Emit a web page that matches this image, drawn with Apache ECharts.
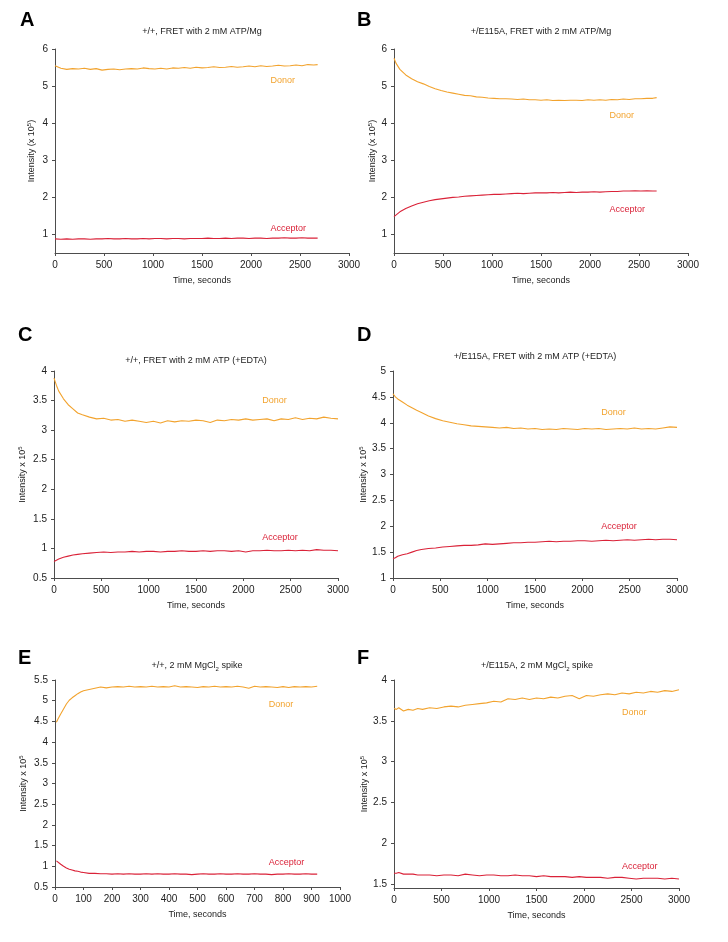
<!DOCTYPE html>
<html><head><meta charset="utf-8">
<script src="https://cdn.jsdelivr.net/npm/echarts@6/dist/echarts.min.js"></script>
<style>html,body{margin:0;padding:0;background:#fff}#c{width:728px;height:942px}</style>
</head><body><div id="c"></div>
<script>
// ---------- data ----------
var tAB = [0,20,60,120,180,240,300,360,420,480,540,600,660,720,780,840,900,960,1020,1080,1140,1200,1260,1320,1380,1440,1500,1560,1620,1680,1740,1800,1860,1920,1980,2040,2100,2160,2220,2280,2340,2400,2460,2520,2580,2640,2680];
var aDonor = [5.55,5.52,5.48,5.45,5.47,5.46,5.48,5.45,5.47,5.43, 5.45,5.46,5.44,5.46,5.47,5.46,5.49,5.47,5.46,5.48, 5.46,5.49,5.48,5.50,5.48,5.51,5.49,5.50,5.52,5.50, 5.51,5.53,5.51,5.52,5.54,5.52,5.55,5.53,5.54,5.56, 5.54,5.55,5.57,5.55,5.58,5.57,5.58];
var aAcceptor = [0.88,0.88,0.87,0.88,0.87,0.88,0.88,0.87,0.88,0.88, 0.89,0.88,0.88,0.89,0.88,0.88,0.89,0.88,0.89,0.89, 0.88,0.89,0.89,0.88,0.89,0.89,0.89,0.90,0.89,0.89, 0.90,0.89,0.90,0.90,0.89,0.90,0.90,0.89,0.90,0.90, 0.91,0.90,0.90,0.91,0.90,0.90,0.90];
var bDonor = [5.75,5.62,5.45,5.30,5.20,5.12,5.06,4.99,4.93,4.88, 4.84,4.81,4.78,4.75,4.74,4.71,4.70,4.68,4.67,4.66, 4.66,4.65,4.64,4.65,4.63,4.63,4.62,4.63,4.61,4.62, 4.61,4.62,4.62,4.61,4.63,4.62,4.63,4.62,4.64,4.63, 4.65,4.64,4.66,4.66,4.67,4.67,4.69];
var bAcceptor = [1.48,1.53,1.61,1.70,1.77,1.83,1.87,1.91,1.94,1.96, 1.98,2.00,2.01,2.03,2.04,2.05,2.06,2.07,2.08,2.08, 2.09,2.10,2.11,2.10,2.11,2.12,2.12,2.12,2.13,2.12, 2.13,2.14,2.13,2.14,2.14,2.15,2.14,2.15,2.16,2.16, 2.17,2.17,2.18,2.17,2.18,2.17,2.17];

var tCDF = [0,25,50,100,150,200,250,300,375,450, 525,600,675,750,825,900,975,1050,1125,1200, 1275,1350,1425,1500,1575,1650,1725,1800,1875,1950, 2025,2100,2175,2250,2325,2400,2475,2550,2625,2700, 2775,2850,2925,3000];
var cDonor = [3.88,3.76,3.66,3.53,3.43,3.36,3.29,3.26,3.22,3.19, 3.20,3.17,3.18,3.15,3.17,3.15,3.13,3.15,3.12,3.16, 3.14,3.16,3.15,3.17,3.16,3.13,3.17,3.16,3.18,3.17, 3.19,3.17,3.18,3.19,3.16,3.19,3.18,3.21,3.18,3.20, 3.19,3.22,3.20,3.19];
var cAcceptor = [0.78,0.80,0.82,0.85,0.87,0.89,0.90,0.91,0.92,0.93, 0.94,0.93,0.94,0.94,0.95,0.94,0.95,0.95,0.94,0.95, 0.95,0.96,0.95,0.95,0.96,0.95,0.96,0.96,0.95,0.96, 0.94,0.96,0.96,0.97,0.96,0.96,0.97,0.96,0.97,0.96, 0.98,0.97,0.97,0.96];
var dDonor = [4.56,4.50,4.46,4.40,4.34,4.29,4.24,4.20,4.13,4.08, 4.04,4.01,3.98,3.96,3.94,3.93,3.92,3.91,3.90,3.91, 3.89,3.90,3.88,3.89,3.87,3.88,3.87,3.89,3.88,3.87, 3.89,3.88,3.89,3.87,3.88,3.89,3.88,3.90,3.88,3.89, 3.88,3.90,3.92,3.91];
var dAcceptor = [1.37,1.39,1.42,1.45,1.47,1.50,1.53,1.55,1.57,1.58, 1.60,1.61,1.62,1.63,1.63,1.64,1.66,1.65,1.66,1.67, 1.68,1.68,1.69,1.69,1.70,1.71,1.70,1.71,1.71,1.72, 1.72,1.71,1.72,1.73,1.72,1.73,1.74,1.73,1.74,1.75, 1.74,1.75,1.75,1.74];
var fDonor = [3.65,3.64,3.66,3.62,3.64,3.63,3.65,3.64,3.66,3.65, 3.67,3.68,3.67,3.69,3.70,3.71,3.72,3.74,3.73,3.77, 3.76,3.78,3.76,3.78,3.77,3.79,3.78,3.80,3.81,3.77, 3.81,3.80,3.82,3.83,3.82,3.84,3.83,3.85,3.84,3.86, 3.85,3.87,3.86,3.88];
var fAcceptor = [1.63,1.63,1.64,1.62,1.62,1.62,1.61,1.61,1.61,1.60, 1.61,1.61,1.60,1.62,1.61,1.60,1.61,1.61,1.60,1.60, 1.61,1.60,1.60,1.59,1.60,1.59,1.59,1.59,1.58,1.59, 1.58,1.58,1.58,1.57,1.58,1.58,1.57,1.56,1.57,1.57, 1.57,1.56,1.57,1.56];

var tE = [5,10,20,30,40,50,60,70,80,90, 100,120,140,160,180,200,220,240,260,280, 300,320,340,360,380,400,420,440,460,480, 500,520,540,560,580,600,620,640,660,680, 700,720,740,760,780,800,820,840,860,880, 900,920];
var eDonor = [4.48,4.55,4.68,4.80,4.92,5.01,5.07,5.12,5.17,5.21, 5.24,5.27,5.30,5.33,5.31,5.33,5.34,5.33,5.35,5.33, 5.34,5.33,5.35,5.33,5.34,5.33,5.36,5.33,5.34,5.33, 5.32,5.34,5.33,5.35,5.33,5.34,5.33,5.35,5.33,5.30, 5.35,5.33,5.34,5.33,5.32,5.34,5.32,5.34,5.33,5.34, 5.33,5.35];
var eAcceptor = [1.13,1.10,1.05,1.00,0.96,0.93,0.91,0.89,0.88,0.86, 0.85,0.83,0.83,0.82,0.82,0.81,0.82,0.81,0.82,0.81, 0.81,0.82,0.81,0.82,0.81,0.81,0.82,0.81,0.81,0.80, 0.81,0.82,0.81,0.81,0.82,0.81,0.81,0.82,0.81,0.81, 0.82,0.81,0.81,0.80,0.81,0.81,0.82,0.81,0.81,0.82, 0.81,0.81];

var yTicksAB = [1,2,3,4,5,6];
var yTicksF = [1.5,2,2.5,3,3.5,4];
var panelLetters = ['A','B','C','D','E','F'];
var panelTitles = ['+/+, FRET with 2 mM ATP/Mg','+/E115A, FRET with 2 mM ATP/Mg','+/+, FRET with 2 mM ATP (+EDTA)','+/E115A, FRET with 2 mM ATP (+EDTA)','+/+, 2 mM MgCl{sub|2} spike','+/E115A, 2 mM MgCl{sub|2} spike'];
var yNames = ['Intensity (x 10{sup|5})','Intensity (x 10{sup|5})','Intensity x 10{sup|5}','Intensity x 10{sup|5}','Intensity x 10{sup|5}','Intensity x 10{sup|5}'];
var seriesNames = ['Donor','Acceptor'];
// label anchor positions in data units [x, y] per panel: donor, acceptor
var labelAnchors = [[[2200,5.16],[2200,1.17]],[[2200,4.22],[2200,1.68]],[[2200,3.50],[2200,1.18]],[[2200,4.20],[2200,1.99]],[[750,4.90],[750,1.09]],[[2400,3.60],[2400,1.71]]];

// ---------- layout/style ----------
var FONT = '"Liberation Sans", Arial, Helvetica, sans-serif';
var DONOR = '#F2A32E', ACC = '#DA2238';
var grids = [
  {left:55, top:49, width:294, height:204},
  {left:394, top:49, width:294, height:204},
  {left:54, top:371, width:284, height:207},
  {left:393, top:371, width:284, height:207},
  {left:55, top:680, width:285, height:207},
  {left:394, top:680, width:285, height:208}
];
var yCfg = [
  {min:0.5, max:6, custom:yTicksAB, gap:18},
  {min:0.5, max:6, custom:yTicksAB, gap:16},
  {min:0.5, max:4, interval:0.5, gap:26},
  {min:1, max:5, interval:0.5, gap:23},
  {min:0.5, max:5.5, interval:0.5, gap:26},
  {min:1.45, max:4, custom:yTicksF, gap:24}
];
var xCfg = [
  {max:3000, interval:500},{max:3000, interval:500},{max:3000, interval:500},
  {max:3000, interval:500},{max:1000, interval:100},{max:3000, interval:500}
];
var titlePos = [[202,32],[541,32],[196,361],[535,357],[197,666],[537,666]];
var letterPos = [[20,20],[357,20],[18,335],[357,335],[18,658],[357,658]];
var seriesData = [
  [tAB,aDonor,aAcceptor],[tAB,bDonor,bAcceptor],[tCDF,cDonor,cAcceptor],
  [tCDF,dDonor,dAcceptor],[tE,eDonor,eAcceptor],[tCDF,fDonor,fAcceptor]
];

function zip(t, v){ var o=[]; for (var i=0;i<t.length;i++) o.push([t[i], v[i]]); return o; }
function plain(v){ return String(Math.round(v*100)/100); }
var axisColor = '#4d4d4d';
var xAxes = [], yAxes = [], series = [], graphics = [];
for (var i=0;i<6;i++){
  xAxes.push({
    type:'value', gridIndex:i, min:0, max:xCfg[i].max, interval:xCfg[i].interval,
    name:'Time, seconds', nameLocation:'middle', nameGap:23,
    nameTextStyle:{fontFamily:FONT, fontSize:9, color:'#222'},
    axisLine:{show:true, onZero:false, lineStyle:{color:axisColor, width:1}},
    axisTick:{show:true, length:3, lineStyle:{color:axisColor}},
    axisLabel:{fontFamily:FONT, fontSize:10, color:'#222', margin:7, showMaxLabel:true, showMinLabel:true, formatter:plain},
    splitLine:{show:false}
  });
  var yc = yCfg[i];
  var ya = {
    type:'value', gridIndex:i, min:yc.min, max:yc.max,
    name:yNames[i], nameLocation:'middle', nameGap:yc.gap, nameRotate:90,
    nameTextStyle:{fontFamily:FONT, fontSize:9, color:'#222', rich:{sup:{fontFamily:FONT, fontSize:6, color:'#222', verticalAlign:'top', padding:[0,0,5,0]}}},
    axisLine:{show:true, onZero:false, lineStyle:{color:axisColor, width:1}},
    axisTick:{show:true, length:3, lineStyle:{color:axisColor}},
    axisLabel:{fontFamily:FONT, fontSize:10, color:'#222', margin:7, formatter:plain},
    splitLine:{show:false}
  };
  if (yc.custom){ ya.axisLabel.customValues = yc.custom; ya.axisTick.customValues = yc.custom; }
  else { ya.interval = yc.interval; }
  yAxes.push(ya);
  var sd = seriesData[i];
  series.push({type:'line', name:seriesNames[0], xAxisIndex:i, yAxisIndex:i, data:zip(sd[0], sd[1]), showSymbol:false, symbol:'none', lineStyle:{color:DONOR, width:1.1}, itemStyle:{color:DONOR}, animation:false, silent:true});
  series.push({type:'line', name:seriesNames[1], xAxisIndex:i, yAxisIndex:i, data:zip(sd[0], sd[2]), showSymbol:false, symbol:'none', lineStyle:{color:ACC, width:1.1}, itemStyle:{color:ACC}, animation:false, silent:true});
  graphics.push({type:'text', x:titlePos[i][0], y:titlePos[i][1], style:{text:panelTitles[i], fill:'#222', font:'9px '+FONT, align:'center', verticalAlign:'middle', rich:{sub:{fontFamily:FONT, fontSize:6, fill:'#222', verticalAlign:'bottom', padding:[6,0,0,0]}}}});
  graphics.push({type:'text', x:letterPos[i][0], y:letterPos[i][1], style:{text:panelLetters[i], fill:'#000', font:'bold 20px '+FONT, align:'left', verticalAlign:'middle'}});
}

var chart = echarts.init(document.getElementById('c'), null, {renderer:'canvas'});
chart.setOption({
  animation:false,
  grid:grids.map(function(g){ return Object.assign({containLabel:false}, g); }),
  xAxis:xAxes, yAxis:yAxes, series:series, graphic:graphics
});
// series labels placed by data coordinates
var lbls = [];
for (var i=0;i<6;i++){
  for (var k=0;k<2;k++){
    var p = chart.convertToPixel({gridIndex:i}, labelAnchors[i][k]);
    lbls.push({type:'text', x:p[0], y:p[1], style:{text:seriesNames[k], fill:k===0?DONOR:ACC, font:'9px '+FONT, align:'left', verticalAlign:'middle'}});
  }
}
chart.setOption({graphic:graphics.concat(lbls)});
</script>
</body></html>
